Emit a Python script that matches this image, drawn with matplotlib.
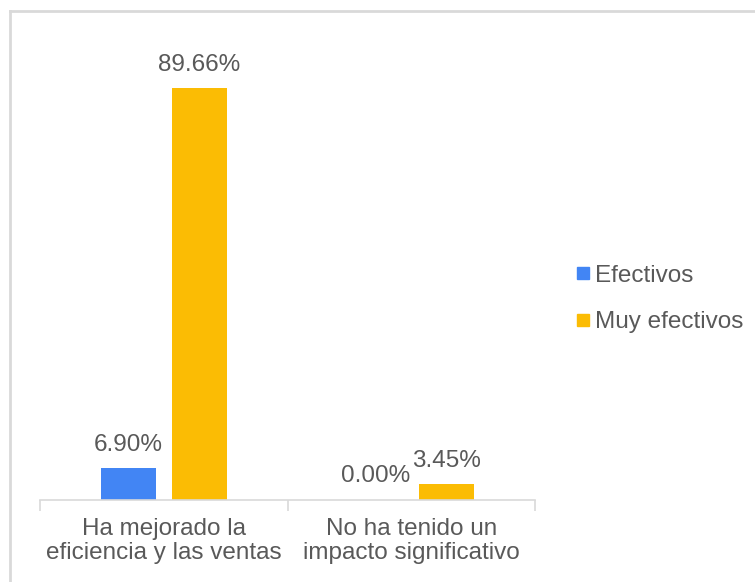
import matplotlib.pyplot as plt
from matplotlib.lines import Line2D
import numpy as np

categories = ["Ha mejorado la\neficiencia y las ventas",
              "No ha tenido un\nimpacto significativo"]
series_names = ["Efectivos", "Muy efectivos"]
efectivos = [6.90, 0.00]
muy_efectivos = [89.66, 3.45]
colors = ["#4285F4", "#FBBC04"]

plt.rcParams['font.family'] = ['Liberation Sans', 'DejaVu Sans']
text_color = "#595959"
fs = 17.5

fig = plt.figure(figsize=(7.55, 5.82), dpi=100)
ax = fig.add_axes([40 / 755, 82 / 582, 495 / 755, 459.5 / 582])

x = np.arange(len(categories))
width = 0.222
offset = 0.143

for vals, name, col, sgn in [(efectivos, series_names[0], colors[0], -1),
                             (muy_efectivos, series_names[1], colors[1], 1)]:
    bars = ax.bar(x + sgn * offset, vals, width, color=col, label=name)
    for b, v in zip(bars, vals):
        ax.annotate(f"{v:.2f}%", (b.get_x() + b.get_width() / 2, v),
                    xytext=(0, 9), textcoords="offset points",
                    ha="center", va="bottom", fontsize=fs, color=text_color)

ax.set_xlim(-0.5, 1.5)
ax.set_ylim(0, 100)
ax.set_yticks([])
ax.set_xticks([-0.5, 0.5, 1.5])
ax.set_xticklabels([])
ax.set_xticks(x, minor=True)
ax.set_xticklabels(categories, minor=True, fontsize=fs, color=text_color,
                   linespacing=1.12)
ax.tick_params(axis="x", which="major", length=8, width=1.2, color="#d9d9d9")
ax.tick_params(axis="x", which="minor", length=0, pad=13)
for s in ["top", "right", "left"]:
    ax.spines[s].set_visible(False)
ax.spines["bottom"].set_color("#d9d9d9")
ax.spines["bottom"].set_linewidth(1.2)

handles = [Line2D([], [], marker="s", linestyle="none", markersize=8,
                  markerfacecolor=c, markeredgecolor=c) for c in colors]
fig.legend(handles, series_names, loc="center left",
           bbox_to_anchor=(551 / 755, 1 - 299 / 582), frameon=False,
           fontsize=fs, labelcolor=text_color, handletextpad=0.1,
           handlelength=0.8, labelspacing=1.0)

# outer frame
fig.add_artist(Line2D([10 / 755, 10 / 755], [0, 1 - 11 / 582],
                      transform=fig.transFigure, color="#d9d9d9", lw=2))
fig.add_artist(Line2D([10 / 755, 1], [1 - 11 / 582, 1 - 11 / 582],
                      transform=fig.transFigure, color="#d9d9d9", lw=2))

fig.savefig("out.png", dpi=100)
